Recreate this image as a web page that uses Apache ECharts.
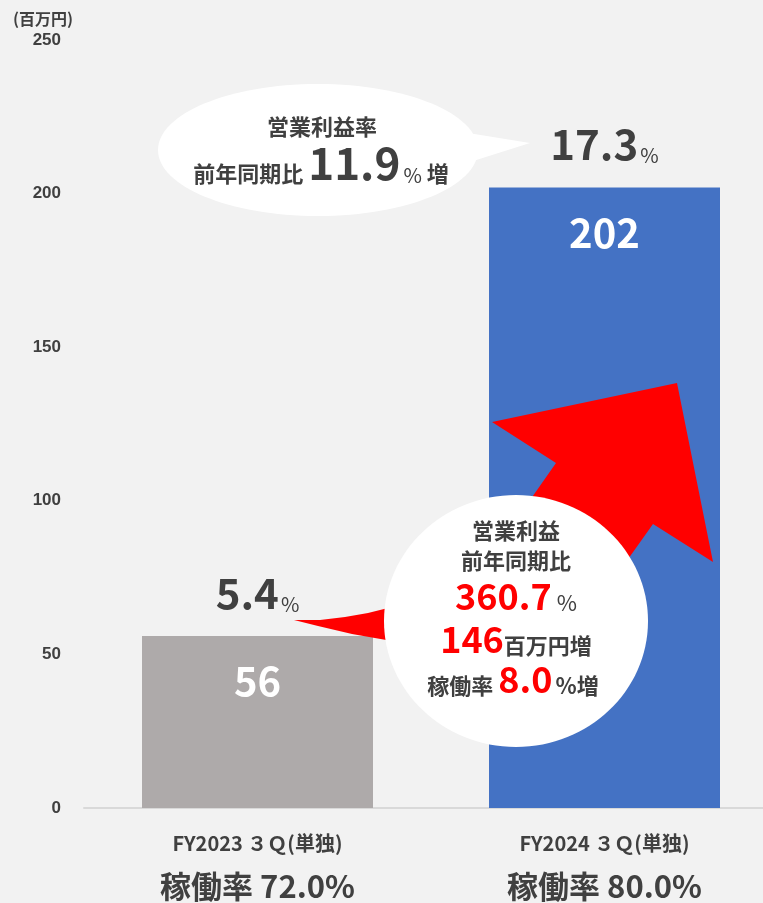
<!DOCTYPE html>
<html><head><meta charset="utf-8">
<script src="https://cdn.jsdelivr.net/npm/echarts@6/dist/echarts.min.js"></script>
<style>html,body{margin:0;padding:0;background:#f2f2f2}#c{width:763px;height:903px}</style>
</head><body><div id="c"></div>
<script>
// ---- data ----
const categories = ['FY2023 ３Ｑ(単独)', 'FY2024 ３Ｑ(単独)'];
const utilization = ['72.0', '80.0'];
const sales = [56, 202];
const marginRate = ['5.4', '17.3'];
const barColors = ['#AEAAAA', '#4472C4'];
const yMin = 0, yMax = 250, yInterval = 50;
const unitLabel = '(百万円)';
const callout1Title = '営業利益率';
const callout1Prefix = '前年同期比 ';
const callout1Value = '11.9';
const circleLine1 = '営業利益';
const circleLine2 = '前年同期比';
const profitGrowthPct = '360.7';
const profitGrowthAmt = '146';
const utilizationGain = '8.0';

const F = "'Noto Sans CJK JP', 'Noto Sans', sans-serif";
const TXT = '#404040';
const RED = '#ff0000';

const chart = echarts.init(document.getElementById('c'));
chart.setOption({
  backgroundColor: '#f2f2f2',
  animation: false,
  grid: { left: 84, top: 40, right: -15, bottom: 95, containLabel: false, outerBoundsMode: 'none' },
  xAxis: {
    type: 'category',
    data: categories,
    axisTick: { show: false },
    axisLine: { lineStyle: { color: '#d9d9d9', width: 2 } },
    axisLabel: {
      margin: 20,
      formatter: (v, i) => `{a|${v}}\n{b|稼働率 ${utilization[i]}%}`,
      rich: {
        a: { fontSize: 20, lineHeight: 30, color: TXT, fontFamily: F, fontWeight: 'bold' },
        b: { fontSize: 31, lineHeight: 56, color: TXT, fontFamily: F, fontWeight: 'bold' }
      }
    }
  },
  yAxis: {
    type: 'value', min: yMin, max: yMax, interval: yInterval,
    splitLine: { show: false },
    axisLine: { show: false }, axisTick: { show: false },
    axisLabel: { margin: 23, color: TXT, fontSize: 17, fontWeight: 'bold', fontFamily: "'Liberation Sans', Arial, sans-serif" }
  },
  series: [
    {
      type: 'bar',
      barWidth: 231,
      data: sales.map((v, i) => ({ value: v, itemStyle: { color: barColors[i] } })),
      label: {
        show: true, position: 'insideTop', distance: 25,
        color: '#fff', fontSize: 40, fontWeight: 'bold', fontFamily: F
      },
      z: 2
    },
    {
      type: 'bar',
      barWidth: 231,
      barGap: '-100%',
      silent: true,
      data: sales,
      itemStyle: { color: 'rgba(0,0,0,0)' },
      label: {
        show: true, position: 'top', distance: 22,
        formatter: p => `{n|${marginRate[p.dataIndex]}}{p|%}`,
        rich: {
          n: { fontSize: 42, fontWeight: 'bold', color: TXT, fontFamily: F, verticalAlign: 'bottom' },
          p: { fontSize: 20, color: TXT, fontFamily: F, verticalAlign: 'bottom', padding: [0, 0, 0, 2] }
        }
      },
      z: 3
    }
  ],
  graphic: [
    { type: 'text', x: 13, y: 19, z: 20,
      style: { text: unitLabel, fontSize: 16, fontWeight: 'bold', fontFamily: F, fill: TXT, align: 'left', verticalAlign: 'middle' } },
    // callout ellipse
    { type: 'ellipse', shape: { cx: 318, cy: 150, rx: 160, ry: 66 }, style: { fill: '#fff' }, z: 5 },
    { type: 'polygon', shape: { points: [[462, 132], [530, 143], [470, 162]] }, style: { fill: '#fff' }, z: 5 },
    { type: 'text', x: 322, y: 127, z: 6,
      style: { text: callout1Title, fontSize: 22, fontWeight: 'bold', fontFamily: F, fill: TXT, align: 'center', verticalAlign: 'middle' } },
    { type: 'text', x: 321, y: 185, z: 6,
      style: {
        text: `{a|${callout1Prefix}}{b|${callout1Value}}{c|%}{a| 増}`,
        align: 'center', verticalAlign: 'bottom',
        rich: {
          a: { fontSize: 22, fontWeight: 'bold', fontFamily: F, fill: TXT, verticalAlign: 'bottom' },
          b: { fontSize: 44, fontWeight: 'bold', fontFamily: F, fill: TXT, verticalAlign: 'bottom' },
          c: { fontSize: 20, fontFamily: F, fill: TXT, verticalAlign: 'bottom', padding: [0, 0, 0, 3] }
        }
      } },
    // red arrow
    { type: 'polygon', z: 10,
      shape: { points: [[677, 383], [713, 562], [653, 524], [599, 600], [488, 560], [556, 463], [492, 422]] },
      style: { fill: RED } },
    // red tail
    { type: 'polygon', z: 10,
      shape: { points: [[294, 620], [320, 620], [345, 617], [368, 613], [392, 607], [392, 641], [352, 634], [318, 626]] },
      style: { fill: RED } },
    // white circle
    { type: 'ellipse', shape: { cx: 516, cy: 621, rx: 132, ry: 126 }, style: { fill: '#fff' }, z: 11 },
    { type: 'text', x: 516, y: 531, z: 12,
      style: { text: circleLine1, fontSize: 22, fontWeight: 'bold', fontFamily: F, fill: TXT, align: 'center', verticalAlign: 'middle' } },
    { type: 'text', x: 516, y: 561, z: 12,
      style: { text: circleLine2, fontSize: 22, fontWeight: 'bold', fontFamily: F, fill: TXT, align: 'center', verticalAlign: 'middle' } },
    { type: 'text', x: 516, y: 614, z: 12,
      style: {
        text: `{r|${profitGrowthPct}}{g|%}`, align: 'center', verticalAlign: 'bottom',
        rich: {
          r: { fontSize: 36, fontWeight: 'bold', fontFamily: F, fill: RED, verticalAlign: 'bottom' },
          g: { fontSize: 22, fontFamily: F, fill: TXT, verticalAlign: 'bottom', padding: [0, 0, 0, 5] }
        }
      } },
    { type: 'text', x: 516, y: 657, z: 12,
      style: {
        text: `{r|${profitGrowthAmt}}{g|百万円増}`, align: 'center', verticalAlign: 'bottom',
        rich: {
          r: { fontSize: 36, fontWeight: 'bold', fontFamily: F, fill: RED, verticalAlign: 'bottom' },
          g: { fontSize: 22, fontWeight: 'bold', fontFamily: F, fill: TXT, verticalAlign: 'bottom' }
        }
      } },
    { type: 'text', x: 513, y: 697, z: 12,
      style: {
        text: `{g|稼働率 }{r|${utilizationGain}}{h|%増}`, align: 'center', verticalAlign: 'bottom',
        rich: {
          r: { fontSize: 36, fontWeight: 'bold', fontFamily: F, fill: RED, verticalAlign: 'bottom' },
          g: { fontSize: 22, fontWeight: 'bold', fontFamily: F, fill: TXT, verticalAlign: 'bottom' },
          h: { fontSize: 22, fontWeight: 'bold', fontFamily: F, fill: TXT, verticalAlign: 'bottom', padding: [0, 0, 0, 3] }
        }
      } }
  ]
});
</script></body></html>
